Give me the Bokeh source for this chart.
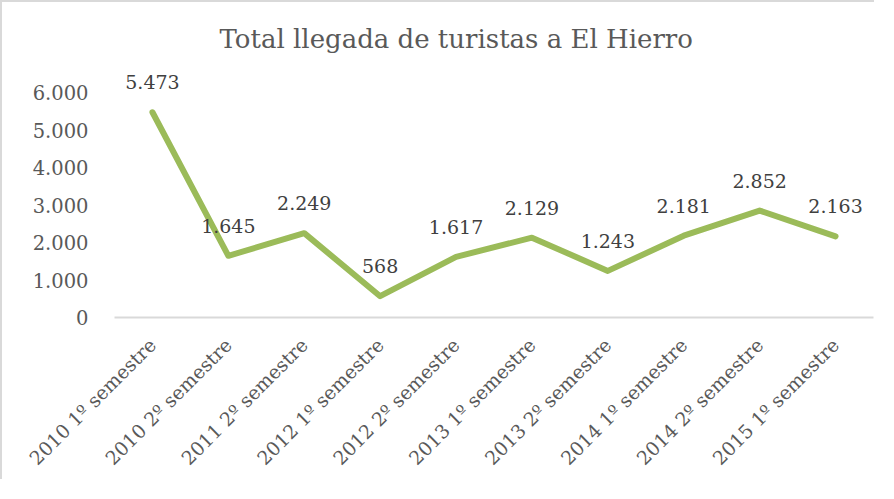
import math
from bokeh.plotting import figure
from bokeh.models import ColumnDataSource, FixedTicker, Range1d, LabelSet
from bokeh.core.properties import value
from bokeh.embed import file_html
from bokeh.resources import INLINE

categories = ["2010 1º semestre", "2010 2º semestre", "2011 2º semestre",
              "2012 1º semestre", "2012 2º semestre", "2013 1º semestre",
              "2013 2º semestre", "2014 1º semestre", "2014 2º semestre",
              "2015 1º semestre"]
turistas = [5473, 1645, 2249, 568, 1617, 2129, 1243, 2181, 2852, 2163]
y_ticks = [0, 1000, 2000, 3000, 4000, 5000, 6000]
y_tick_labels = ["0", "1.000", "2.000", "3.000", "4.000", "5.000", "6.000"]
title_text = "Total llegada de turistas a El Hierro"

FONT = "DejaVu Serif"

labels = [f"{v:,}".replace(",", ".") for v in turistas]
src = ColumnDataSource(dict(x=categories, y=turistas, lab=labels))

p = figure(width=874, height=479, x_range=categories, y_range=Range1d(0, 6800),
           output_backend="svg", toolbar_location=None,
           min_border_left=112, min_border_right=3, min_border_top=60,
           min_border_bottom=164)
p.styles = {"border-left": "2px solid #d9d9d9", "border-top": "2px solid #d9d9d9"}

p.title.text = title_text
p.title.align = "left"
p.title.offset = 105
p.title.standoff = 18
p.title.text_font = FONT
p.title.text_font_size = "26px"
p.title.text_font_style = "normal"
p.title.text_color = "#595959"

p.line("x", "y", source=src, line_width=6, color="#9BBB59",
       line_cap="round", line_join="round")

ls = LabelSet(x="x", y="y", text="lab", source=src, text_align="center",
              text_baseline="alphabetic", y_offset=23, text_font=value(FONT),
              text_font_size=value("19px"), text_color="#404040")
p.add_layout(ls)

p.grid.visible = False
p.outline_line_color = None

p.yaxis.ticker = FixedTicker(ticks=y_ticks)
p.yaxis.major_label_overrides = {t: l for t, l in zip(y_ticks, y_tick_labels)}
p.yaxis.axis_line_color = None
p.yaxis.major_tick_line_color = None
p.yaxis.minor_tick_line_color = None
p.yaxis.major_label_standoff = 20
p.yaxis.major_label_text_font = FONT
p.yaxis.major_label_text_font_size = "19.5px"
p.yaxis.major_label_text_color = "#595959"

p.xaxis.axis_line_color = "#d9d9d9"
p.xaxis.axis_line_width = 2
p.xaxis.major_tick_line_color = None
p.xaxis.minor_tick_line_color = None
p.xaxis.major_label_orientation = math.pi / 4
p.xaxis.major_label_standoff = 18
p.xaxis.major_label_text_font = FONT
p.xaxis.major_label_text_font_size = "19px"
p.xaxis.major_label_text_color = "#595959"

open("out.html", "w").write(file_html(p, INLINE))
